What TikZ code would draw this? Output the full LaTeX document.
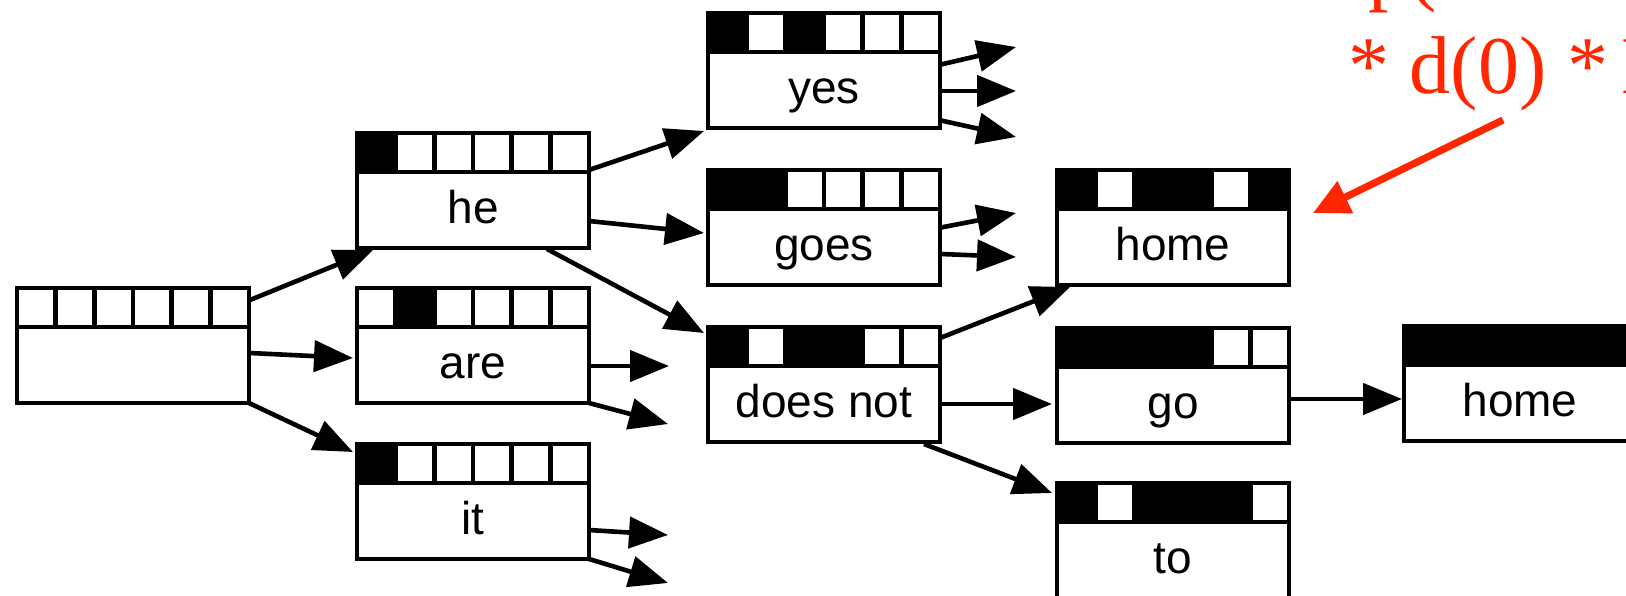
\documentclass[tikz,border=0pt]{standalone}
\usepackage{fontspec}
\setmainfont{Liberation Sans}
\newfontfamily\annfont{Liberation Serif}
\usetikzlibrary{arrows.meta,calc}
\definecolor{annred}{RGB}{255,38,0}
\newcommand{\hyp}[4]{%
  \node[hypbox] (#1) at (#2) {};
  \foreach \b [count=\i from 0] in {#4} {%
    \ifnum\b=1 \fill ($(#1.north west)+(\i*38.667,0)$) rectangle ++(38.667,39);\fi
  }
  \foreach \i in {1,...,5} \draw[boxline] ($(#1.north west)+(\i*38.667,0)$) -- ++(0,39);
  \draw[boxline] ($(#1.north west)+(0,39)$) -- ($(#1.north east)+(0,39)$);
  \draw[boxline] (#1.north west) rectangle (#1.south east);
  \node[lbl] (#1-t) at ($(#1.south)+(0,-25)$) {#3};
}
\begin{document}
\begin{tikzpicture}[x=0.5pt,y=-0.5pt,
  hypbox/.style={draw, line width=2.3pt, fill=white, minimum width=116pt, minimum height=57.5pt, inner sep=0pt, outer sep=0pt},
  boxline/.style={line width=2.3pt},
  lbl/.style={anchor=base, inner sep=0pt, font=\fontsize{23}{27}\selectfont},
  arr/.style={line width=2.3pt, -{Triangle[length=19.5pt,width=15.5pt]}},
  redarr/.style={annred, line width=3.6pt, -{Triangle[length=18pt,width=17pt]}},
  ann/.style={annred, anchor=base west, inner sep=0pt, font=\annfont\fontsize{41}{48}\selectfont}]
\path[use as bounding box] (0,0) rectangle (1626,595);
\clip (0,0) rectangle (1626,595);
\fill[white] (0,0) rectangle (1626,595);

\hyp{root}{133,345.5}{}{0,0,0,0,0,0}
\hyp{he}{473,190.5}{he}{1,0,0,0,0,0}
\hyp{are}{473,345.5}{are}{0,1,0,0,0,0}
\hyp{it}{473,501.5}{it}{1,0,0,0,0,0}
\hyp{yes}{824,70.5}{yes}{1,0,1,0,0,0}
\hyp{goes}{824,227.5}{goes}{1,1,0,0,0,0}
\hyp{doesnot}{824,384.5}{does not}{1,0,1,1,0,0}
\hyp{home1}{1173,227.5}{home}{1,0,1,1,0,1}
\hyp{go}{1173,385.5}{go}{1,1,1,1,0,0}
\hyp{to}{1173,540.5}{to}{1,0,1,1,1,0}
\hyp{home2}{1520,383.5}{home}{1,1,1,1,1,1}

% free ends
\coordinate (are-s1) at (669,366);
\coordinate (are-s2) at (668,424);
\coordinate (it-s1) at (668,535);
\coordinate (it-s2) at (668,583);
\coordinate (yes-s1) at (1016,47);
\coordinate (yes-s2) at (1016,91);
\coordinate (yes-s3) at (1016,137);
\coordinate (goes-s1) at (1016,213);
\coordinate (goes-s2) at (1016,257);

\draw[arr] ($(root.north east)+(1,12)$) -- ($(he.south west)+(16,2)$);
\draw[arr] ($(root.north east)+(1,65)$) -- ($(are.west)+(-4,12.5)$);
\draw[arr] (root.south east) -- ($(it.north west)+(-4,8)$);
\draw[arr] ($(he.north east)+(0,37)$) -- ($(yes.south west)+(-4,3)$);
\draw[arr] ($(he.north east)+(0,88)$) -- ($(goes.west)+(-4,5.5)$);
\draw[arr] ($(he.south west)+(190,1)$) -- ($(doesnot.north west)+(-4,6)$);
\draw[arr] ($(are.east)+(0,20.5)$) -- (are-s1);
\draw[arr] (are.south east) -- (are-s2);
\draw[arr] ($(it.east)+(0,28.5)$) -- (it-s1);
\draw[arr] (it.south east) -- (it-s2);
\draw[arr] ($(yes.east)+(1,-6)$) -- (yes-s1);
\draw[arr] ($(yes.east)+(1,20.5)$) -- (yes-s2);
\draw[arr] ($(yes.east)+(1,50)$) -- (yes-s3);
\draw[arr] ($(goes.east)+(1,0)$) -- (goes-s1);
\draw[arr] ($(goes.east)+(1,26.5)$) -- (goes-s2);
\draw[arr] ($(doesnot.north east)+(0,11)$) -- ($(home1.south west)+(13,2)$);
\draw[arr] ($(doesnot.east)+(0,19.5)$) -- ($(go.west)+(-5,18.5)$);
\draw[arr] ($(doesnot.south east)+(-16,2)$) -- ($(to.north west)+(-5,10)$);
\draw[arr] ($(go.east)+(2,13.5)$) -- ($(home2.west)+(-2,15.5)$);

% annotation
\node[ann] (annp) at (1368,-5) {p(};
\node[ann] (ann) at (1348,93) {* d(0) *\kern7pt L};
\coordinate (annfrom) at (1503,120);
\draw[redarr] (annfrom) -- ($(home1.east)+(24,-14.5)$);
\end{tikzpicture}
\end{document}
